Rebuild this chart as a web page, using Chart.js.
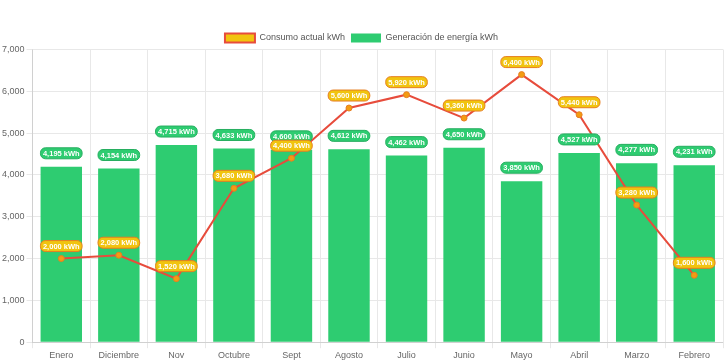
<!DOCTYPE html>
<html lang="es">
<head>
    <meta charset="UTF-8">
    <title>Consumo vs Generación</title>
    <script src="https://cdn.jsdelivr.net/npm/chart.js"></script>
    <style>
        html, body { margin: 0; padding: 0; background: #fff; }
        #wrap { width: 728px; height: 363px; }
    </style>
</head>
<body>
    <div id="wrap"><canvas id="energyChart"></canvas></div>

    <script>
        // datos
        const meses = ['Enero', 'Diciembre', 'Nov', 'Octubre', 'Sept', 'Agosto', 'Julio', 'Junio', 'Mayo', 'Abril', 'Marzo', 'Febrero'];
        const consumo = [2000, 2080, 1520, 3680, 4400, 5600, 5920, 5360, 6400, 5440, 3280, 1600];
        const generacion = [4195, 4154, 4715, 4633, 4600, 4612, 4462, 4650, 3850, 4527, 4277, 4231];
        const yMax = 7000;
        const yStep = 1000;

        const fmt = v => v.toLocaleString('en-US') + ' kWh';
        const fuente = '"Liberation Sans", Arial, sans-serif';

        // etiquetas tipo "pastilla" sobre barras y puntos
        const etiquetas = {
            id: 'etiquetas',
            beforeLayout(chart) {
                // leyenda un poco mas baja sin empujar el area del grafico
                const lg = chart.legend;
                if (lg && !lg._ajustada) {
                    const fitOrig = lg.fit.bind(lg);
                    lg.fit = function () { fitOrig(); this.height -= 3; };
                    lg._ajustada = true;
                }
            },
            afterDatasetsDraw(chart) {
                const ctx = chart.ctx;
                // barras primero, luego la linea encima
                [1, 0].forEach(i => {
                    const ds = chart.data.datasets[i];
                    const meta = chart.getDatasetMeta(i);
                    if (meta.hidden) return;
                    meta.data.forEach((el, j) => {
                        const txt = fmt(ds.data[j]);
                        ctx.save();
                        ctx.font = 'bold 7.5px ' + fuente;
                        const w = ctx.measureText(txt).width + 5;
                        const h = 11;
                        const x = el.x - w / 2;
                        const y = el.y - ds.labelGap - h;
                        ctx.beginPath();
                        ctx.roundRect(x, y, w, h, 5);
                        ctx.fillStyle = ds.labelBg;
                        ctx.fill();
                        ctx.lineWidth = 1;
                        ctx.strokeStyle = ds.labelBorder;
                        ctx.stroke();
                        ctx.fillStyle = '#fff';
                        ctx.textAlign = 'center';
                        ctx.textBaseline = 'middle';
                        ctx.fillText(txt, el.x, y + h / 2 + 0.5);
                        ctx.restore();
                    });
                });
            }
        };

        Chart.defaults.font.family = fuente;
        Chart.defaults.font.size = 9;

        new Chart(document.getElementById('energyChart'), {
            type: 'bar',
            data: {
                labels: meses,
                datasets: [{
                    type: 'line',
                    label: 'Consumo actual kWh',
                    data: consumo,
                    borderColor: '#e74c3c',
                    backgroundColor: '#f1c40f',
                    borderWidth: 2,
                    pointRadius: 3,
                    pointBackgroundColor: '#f39c12',
                    pointBorderColor: '#e67e22',
                    pointBorderWidth: 1,
                    tension: 0,
                    labelBg: '#f1c40f',
                    labelBorder: '#e67e22',
                    labelGap: 7
                }, {
                    label: 'Generación de energía kWh',
                    data: generacion,
                    backgroundColor: '#2ecc71',
                    borderColor: '#2ecc71',
                    borderWidth: 0,
                    labelBg: '#2ecc71',
                    labelBorder: '#27ae60',
                    labelGap: 8
                }]
            },
            options: {
                responsive: true,
                maintainAspectRatio: false,
                animation: false,
                layout: { padding: { top: 27.5, right: 5, left: 0, bottom: 0 } },
                plugins: {
                    legend: {
                        labels: {
                            boxWidth: 30,
                            boxHeight: 9,
                            padding: 6,
                            color: '#555'
                        }
                    },
                    tooltip: { enabled: false }
                },
                scales: {
                    x: {
                        grid: { color: '#e8e8e8', tickLength: 6 },
                        ticks: { color: '#666', padding: 2 }
                    },
                    y: {
                        min: 0,
                        max: yMax,
                        ticks: { stepSize: yStep, color: '#666', padding: 2 },
                        grid: { color: '#e8e8e8', tickLength: 6 }
                    }
                }
            },
            plugins: [etiquetas]
        });
    </script>
</body>
</html>
